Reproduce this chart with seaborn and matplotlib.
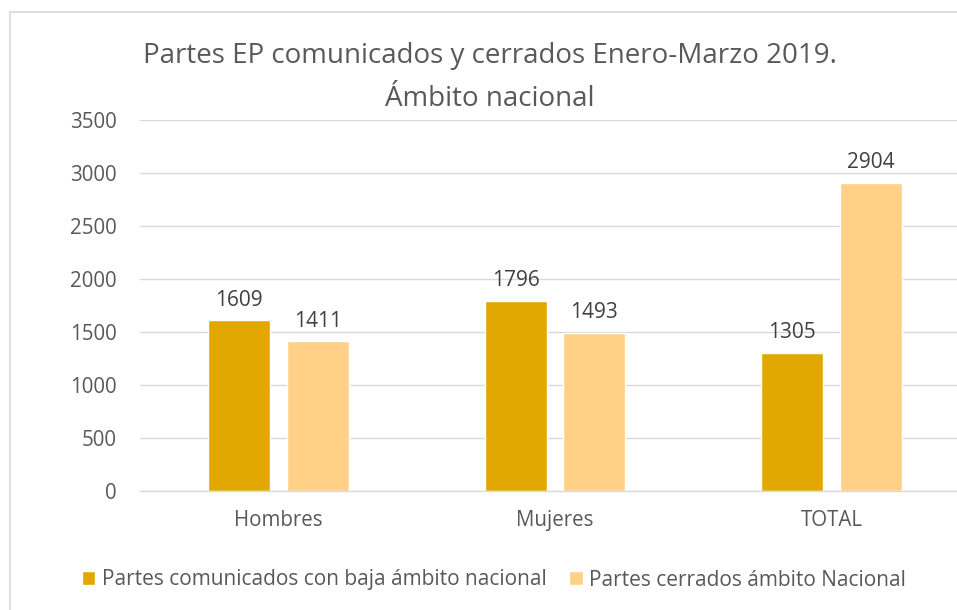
import matplotlib
matplotlib.use("Agg")
import matplotlib.pyplot as plt
import seaborn as sns
import pandas as pd
from matplotlib.patches import Rectangle

categories = ["Hombres", "Mujeres", "TOTAL"]
series_names = ["Partes comunicados con baja ámbito nacional", "Partes cerrados ámbito Nacional"]
comunicados = [1609, 1796, 1305]
cerrados = [1411, 1493, 2904]
yticks = [0, 500, 1000, 1500, 2000, 2500, 3000, 3500]
title_lines = ["Partes EP comunicados y cerrados Enero-Marzo 2019.", "Ámbito nacional"]

df = pd.DataFrame({
    "cat": categories * 2,
    "serie": [series_names[0]] * 3 + [series_names[1]] * 3,
    "val": comunicados + cerrados,
})

sns.set_theme(style="white")
plt.rcParams["font.family"] = ["Open Sans", "DejaVu Sans"]

fig = plt.figure(figsize=(9.57, 6.10), dpi=100)
fig.patches.append(Rectangle((10 / 957, -0.1), 1.2, 1.1 - 12 / 610,
                             transform=fig.transFigure, fill=False,
                             edgecolor="#D9D9D9", linewidth=1.2, zorder=0))
ax = fig.add_axes([140 / 957, (610 - 491) / 610, 830 / 957, (491 - 120) / 610])

palette = {series_names[0]: "#E2A700", series_names[1]: "#FFD086"}
sns.barplot(data=df, x="cat", y="val", hue="serie", palette=palette,
            width=0.568, gap=0.21, ax=ax, saturation=1, legend=True)

ax.set_xlim(-0.5, 2.5)
ax.set_ylim(0, 3500)
ax.set_yticks(yticks)
ax.set_yticklabels([str(t) for t in yticks])
ax.yaxis.grid(True, color="#D9D9D9", linewidth=1)
ax.set_axisbelow(True)
for s in ["top", "right", "left"]:
    ax.spines[s].set_visible(False)
ax.spines["bottom"].set_color("#D9D9D9")
ax.spines["bottom"].set_linewidth(1)
ax.tick_params(axis="both", length=0, colors="#595959", labelsize=14.8)
ax.tick_params(axis="y", pad=17)
ax.tick_params(axis="x", pad=14)
ax.set_xlabel("")
ax.set_ylabel("")

for cont in ax.containers:
    ax.bar_label(cont, padding=7, color="#404040", fontsize=15)

handles, labels = ax.get_legend_handles_labels()
ax.legend(handles, labels, loc="center", bbox_to_anchor=(494 / 957, (610 - 580) / 610),
          bbox_transform=fig.transFigure, ncol=2, frameon=False, fontsize=15,
          labelcolor="#595959", handlelength=0.65, handleheight=0.65,
          handletextpad=0.3, columnspacing=1.1, borderpad=0.2)

fig.text(490 / 957, (610 - 63) / 610, title_lines[0], ha="center", va="baseline",
         fontsize=20, color="#595959")
fig.text(490 / 957, (610 - 106) / 610, title_lines[1], ha="center", va="baseline",
         fontsize=20, color="#595959")

fig.savefig("out.png", dpi=100)
